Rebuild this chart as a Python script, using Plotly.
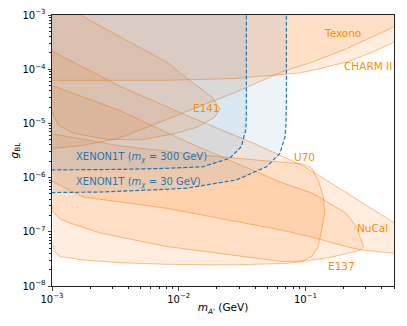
import numpy as np
import plotly.graph_objects as go

# ---------------- data (log10 of m_A' [GeV] and g_BL) ----------------
texono_lm = [-3.1, -3.0, -2.754, -2.484, -2.278, -2.095, -1.849, -1.579, -1.190, -0.944, -0.675, -0.286, -0.2, -0.2, -3.1]
texono_lg = [-5.47, -5.463, -5.404, -5.282, -5.098, -4.924, -4.697, -4.452, -4.052, -3.867, -3.622, -3.203, -3.110, -2.5, -2.5]

charm_lm = [-3.1, -3.0, -2.111, -1.579, -1.190, -1.048, -0.889, -0.675, -0.468, -0.286, -0.2, -0.2, -3.1]
charm_lg = [-4.205, -4.205, -4.205, -4.175, -4.101, -4.070, -3.991, -3.867, -3.683, -3.485, -3.391, -2.5, -2.5]

e141_lm = [-2.817, -2.762, -2.484, -2.095, -1.897, -1.738, -1.675, -1.714, -1.849, -2.024, -2.302, -2.563, -2.833, -2.952, -3.0, -3.056, -3.056]
e141_lg = [-2.815, -3.018, -3.375, -3.867, -4.236, -4.513, -4.729, -4.882, -5.066, -5.186, -5.306, -5.293, -5.183, -5.030, -4.790, -4.384, -2.72]

u70_lm = [-3.1, -3.0, -2.468, -1.944, -1.413, -1.016, -0.635, -0.286, -0.159,
          -0.159, -0.286, -0.556, -0.675, -0.944, -1.190, -2.095, -2.754, -3.0, -3.1]
u70_lg = [-3.554, -3.664, -4.310, -4.845, -5.362, -5.786, -6.339, -6.856, -7.041,
          -7.428, -7.397, -7.336, -7.275, -7.101, -6.967, -6.566, -6.358, -6.081, -5.95]

nucal_lm = [-3.0, -2.468, -1.944, -1.587, -1.206, -0.942, -0.677, -0.598, -0.545, -0.540, -0.571,
            -0.675, -0.810, -0.992, -1.190, -2.095, -2.619, -2.857, -2.937, -2.990, -3.0]
nucal_lg = [-4.300, -4.760, -5.330, -5.690, -6.076, -6.290, -6.659, -6.906, -7.212, -7.275, -7.345,
            -7.400, -7.474, -7.539, -7.548, -7.271, -7.022, -6.838, -6.764, -6.635, -6.5]

e137_lm = [-2.990, -2.976, -2.937, -2.833, -2.752, -2.460, -2.095, -1.587, -1.167, -1.032, -0.952,
           -0.899, -0.873, -0.847, -0.859, -0.899, -0.952, -1.016, -1.296, -1.825, -2.460, -2.990]
e137_lg = [-7.244, -7.373, -7.456, -7.493, -7.520, -7.570, -7.600, -7.610, -7.585, -7.552, -7.459,
           -7.275, -6.967, -6.659, -6.352, -6.044, -5.823, -5.749, -5.694, -5.583, -5.417, -5.196]

xe300_lm = [-3.1, -3.0, -2.5, -2.1, -1.810, -1.598, -1.506, -1.471, -1.466, -1.466, -3.1]
xe300_lg = [-5.860, -5.860, -5.850, -5.830, -5.799, -5.644, -5.430, -5.122, -4.85, -2.5, -2.5]

xe30_lm = [-3.1, -3.0, -2.619, -2.222, -1.942, -1.545, -1.307, -1.201, -1.161, -1.153, -1.150, -1.150, -3.1]
xe30_lg = [-6.279, -6.279, -6.266, -6.229, -6.197, -6.044, -5.799, -5.552, -5.245, -4.993, -4.568, -2.5, -2.5]

label_text = ["Texono", "CHARM II", "E141", "U70", "NuCal", "E137"]
label_lm = [-0.706, -0.504, -1.782, -1.008, -0.472, -0.714]
label_lg = [-3.332, -3.941, -4.716, -5.620, -6.930, -7.631]

xenon_text = ["XENON1T (<i>m<sub>χ</sub></i> = 300 GeV)", "XENON1T (<i>m<sub>χ</sub></i> = 30 GeV)"]
xenon_lm = [-2.825, -2.825]
xenon_lg = [-5.620, -6.087]

x_ticks = [1e-3, 1e-2, 1e-1]
x_ticktext = ["10<sup>−3</sup>", "10<sup>−2</sup>", "10<sup>−1</sup>"]
y_ticks = [1e-8, 1e-7, 1e-6, 1e-5, 1e-4, 1e-3]
y_ticktext = ["10<sup>−8</sup>", "10<sup>−7</sup>", "10<sup>−6</sup>", "10<sup>−5</sup>", "10<sup>−4</sup>", "10<sup>−3</sup>"]

# ---------------- styling ----------------
OR_FILL = "rgba(255,127,14,0.13)"
OR_LINE = "rgba(255,127,14,0.5)"
BL_FILL = "rgba(31,119,180,0.085)"
BL_LINE = "#1f77b4"
LABEL_OR = "#ff8c00"
FONT = "DejaVu Sans"

fig = go.Figure()


def region(lm, lg, fill, line, dash=None, width=1.0):
    fig.add_trace(go.Scatter(
        x=10 ** np.array(lm), y=10 ** np.array(lg), mode="lines", fill="toself",
        fillcolor=fill, line=dict(color=line, width=width, dash=dash),
        hoverinfo="skip", showlegend=False))


for lm, lg in [(texono_lm, texono_lg), (charm_lm, charm_lg), (e141_lm, e141_lg),
               (u70_lm, u70_lg), (nucal_lm, nucal_lg), (e137_lm, e137_lg)]:
    region(lm, lg, OR_FILL, OR_LINE)

for lm, lg in [(xe300_lm, xe300_lg), (xe30_lm, xe30_lg)]:
    region(lm, lg, BL_FILL, BL_LINE, dash="4px,2px", width=1.2)

for t, a, b in zip(label_text, label_lm, label_lg):
    fig.add_annotation(x=a, y=b, text=t, showarrow=False, xanchor="center", yanchor="middle",
                       font=dict(family=FONT, size=10.5, color=LABEL_OR))
for t, a, b in zip(xenon_text, xenon_lm, xenon_lg):
    fig.add_annotation(x=a, y=b, text=t, showarrow=False, xanchor="left", yanchor="middle",
                       font=dict(family=FONT, size=10, color=BL_LINE))

minor_x = [k * 10.0 ** e for e in (-3, -2, -1) for k in range(2, 10) if k * 10.0 ** e <= 0.5]
minor_y = [k * 10.0 ** e for e in (-8, -7, -6, -5, -4) for k in range(2, 10)]

# page body has an 8px margin, so the figure is sized to fit the 407x326 window
fig.update_layout(
    width=399, height=318,
    margin=dict(l=44, r=13, t=7, b=40, autoexpand=False),
    paper_bgcolor="white", plot_bgcolor="white",
    font=dict(family=FONT, size=10, color="black"),
    xaxis=dict(type="log", range=[-3, np.log10(0.5)], showline=True, mirror=True, automargin=False,
               linecolor="#222", linewidth=1, ticks="outside", ticklen=3.5, tickwidth=0.8,
               tickvals=x_ticks, ticktext=x_ticktext, showgrid=False, zeroline=False,
               minor=dict(tickvals=minor_x, ticks="outside", ticklen=2, tickwidth=0.6, tickcolor="#222", showgrid=False),
               title=dict(text="<i>m</i><sub><i>A'</i></sub> (GeV)", standoff=0, font=dict(size=10.5))),
    yaxis=dict(type="log", range=[-8, -3], showline=True, mirror=True, automargin=False,
               linecolor="#222", linewidth=1, ticks="outside", ticklen=3.5, tickwidth=0.8,
               tickvals=y_ticks, ticktext=y_ticktext, showgrid=False, zeroline=False,
               minor=dict(tickvals=minor_y, ticks="outside", ticklen=2, tickwidth=0.6, tickcolor="#222", showgrid=False),
               title=dict(text="<i>g</i><sub>BL</sub>", standoff=3, font=dict(size=10.5))),
)

fig.write_html("out.html")
